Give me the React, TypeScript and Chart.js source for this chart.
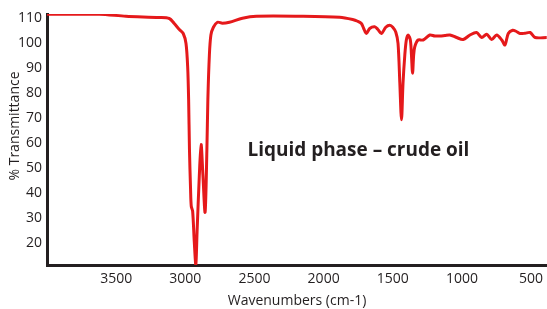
import React, { useEffect, useRef } from "react";
import { Chart, registerables } from "chart.js";

Chart.register(...registerables);

const WAVENUMBERS = [
  4000, 3623, 3430, 3188, 3116, 3080, 3043, 3015, 2995, 2983, 2976, 2970, 2962, 2957, 2947, 2935, 2924,
  2915, 2899, 2886, 2873, 2857, 2844, 2837, 2826, 2815, 2797, 2768, 2732, 2681, 2587, 2486, 2174, 1884,
  1790, 1754, 1727, 1711, 1691, 1667, 1631, 1609, 1582, 1551, 1522, 1500, 1478, 1462, 1449, 1437, 1426,
  1413, 1402, 1389, 1373, 1365, 1357, 1349, 1341, 1317, 1281, 1232, 1196, 1160, 1123, 1087, 1039, 991,
  942, 894, 857, 821, 785, 749, 712, 689, 665, 633, 609, 580, 544, 507, 471, 387,
];
const TRANSMITTANCE = [
  111.7, 111.7, 110.9, 110.4, 110.0, 108.0, 105.6, 104.0, 100.0, 90.7, 77.5, 57.6, 41.6, 34.9, 32.9, 20.5, 11.5,
  24.6, 46.8, 59.6, 47.6, 32.5, 57.5, 77.5, 95.4, 103.4, 106.5, 108.5, 108.1, 108.5, 110.1, 110.9, 110.9, 110.5,
  109.6, 108.9, 108.0, 106.1, 104.0, 106.0, 106.7, 105.7, 104.0, 106.5, 107.3, 106.5, 104.5, 100.0, 84.1, 69.5, 84.1,
  95.4, 101.4, 103.4, 101.4, 95.4, 88.1, 95.4, 98.7, 101.4, 101.4, 103.4, 103.0, 103.0, 103.2, 103.4, 102.4, 101.6,
  103.4, 104.4, 102.4, 103.7, 101.6, 103.4, 101.4, 99.4, 104.0, 105.3, 104.9, 104.0, 104.1, 104.4, 102.4, 102.4,
];
const X_TICKS = [3500, 3000, 2500, 2000, 1500, 1000, 500];
const Y_TICKS = [20, 30, 40, 50, 60, 70, 80, 90, 100, 110];
const X_TITLE = "Wavenumbers (cm-1)";
const Y_TITLE = "% Transmittance";
const ANNOTATION = "Liquid phase \u2013 crude oil";

const TEXT_COLOR = "#231f20";
const FONT_FAMILY = '"Open Sans", sans-serif';

const overlayText = {
  id: "overlayText",
  afterDraw(chart: any) {
    const ctx = chart.ctx as CanvasRenderingContext2D;
    ctx.save();
    ctx.fillStyle = TEXT_COLOR;
    ctx.font = `14px ${FONT_FAMILY}`;
    ctx.textAlign = "center";
    ctx.textBaseline = "middle";
    ctx.translate(15, 126);
    ctx.rotate(-Math.PI / 2);
    ctx.fillText(Y_TITLE, 0, 0);
    ctx.restore();

    ctx.save();
    ctx.fillStyle = TEXT_COLOR;
    ctx.font = `bold 20px ${FONT_FAMILY}`;
    ctx.textAlign = "left";
    ctx.textBaseline = "alphabetic";
    const x0 = chart.scales.x.getPixelForValue(2551);
    const y0 = chart.scales.y.getPixelForValue(55.0);
    const w = ctx.measureText(ANNOTATION).width;
    const sx = 222 / w;
    ctx.translate(x0, y0);
    ctx.scale(sx, 1);
    ctx.fillText(ANNOTATION, 0, 0);
    ctx.restore();
  },
};

export default function App() {
  const ref = useRef<HTMLCanvasElement>(null);
  useEffect(() => {
    if (!ref.current) return;
    const points = WAVENUMBERS.map((w, i) => ({ x: w, y: TRANSMITTANCE[i] }));
    const chart = new Chart(ref.current, {
      type: "line",
      data: {
        datasets: [
          {
            data: points,
            borderColor: "#e5191b",
            borderWidth: 3,
            pointRadius: 0,
            tension: 0.3,
            fill: false,
          },
        ],
      },
      options: {
        animation: false,
        responsive: false,
        maintainAspectRatio: false,
        devicePixelRatio: 1,
        layout: { padding: { top: 14, right: 0, left: 0, bottom: 0 } },
        plugins: { legend: { display: false }, tooltip: { enabled: false } },
        scales: {
          x: {
            type: "linear",
            reverse: true,
            min: 385,
            max: 4000,
            grid: { display: false, drawTicks: false },
            border: { display: true, color: "#231f20", width: 3 },
            afterBuildTicks: (s: any) => {
              s.ticks = X_TICKS.map((v) => ({ value: v }));
            },
            afterFit: (s: any) => {
              s.height = 44;
              s.paddingRight = 0;
              s.paddingLeft = 0;
            },
            ticks: {
              autoSkip: false,
              maxRotation: 0,
              padding: 6,
              color: TEXT_COLOR,
              font: { family: FONT_FAMILY, size: 14 },
              callback: (v: any) => String(v),
            },
            title: {
              display: true,
              text: X_TITLE,
              color: TEXT_COLOR,
              font: { family: FONT_FAMILY, size: 14 },
              padding: { top: 0, bottom: 0 },
            },
          },
          y: {
            type: "linear",
            min: 11.4,
            max: 111.8,
            grid: { display: false, drawTicks: false },
            border: { display: true, color: "#231f20", width: 3 },
            afterBuildTicks: (s: any) => {
              s.ticks = Y_TICKS.map((v) => ({ value: v }));
            },
            afterFit: (s: any) => {
              s.width = 47;
            },
            ticks: {
              autoSkip: false,
              padding: 5,
              color: TEXT_COLOR,
              font: { family: FONT_FAMILY, size: 14 },
              callback: (v: any) => String(v),
            },
          },
        },
      },
      plugins: [overlayText],
    });
    return () => chart.destroy();
  }, []);
  return (
    <div style={{ position: "fixed", left: 0, top: 0, width: 547, height: 309, background: "#fff" }}>
      <canvas ref={ref} width={547} height={309} style={{ display: "block" }} />
    </div>
  );
}
